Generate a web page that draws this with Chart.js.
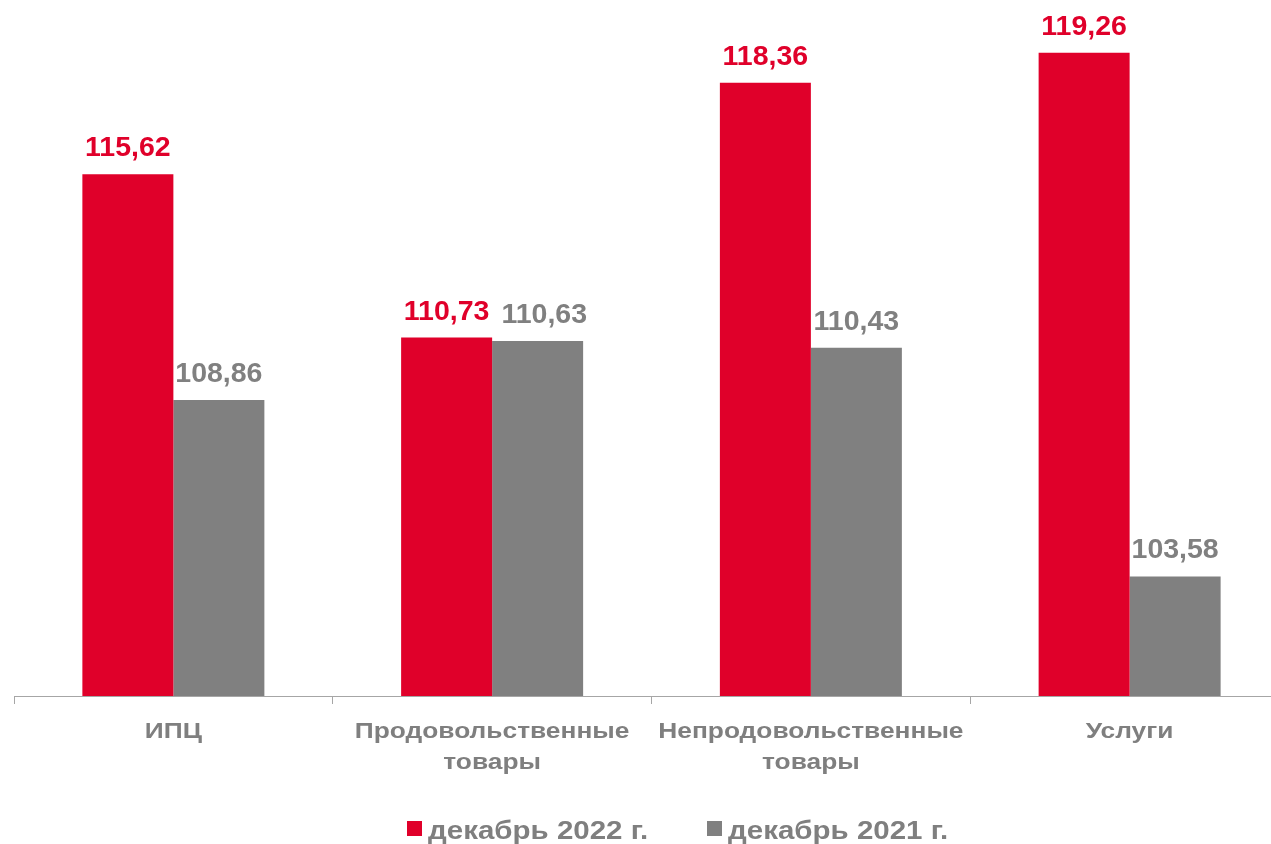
<!DOCTYPE html>
<html>
<head>
<meta charset="utf-8">
<script src="https://cdn.jsdelivr.net/npm/chart.js@4/dist/chart.umd.min.js"></script>
<style>
  html, body { margin: 0; padding: 0; background: #fff; overflow: hidden; }
  #wrap { position: relative; width: 1310px; height: 844px; }
  .item { position: absolute; top: 816px; height: 25px; line-height: 25px; font: bold 25px "Liberation Sans", Arial, sans-serif; color: #7F7F7F; white-space: nowrap; }
  .item .box { position: absolute; left: 0; top: 5px; width: 15px; height: 15px; }
  .item .txt { position: absolute; left: 21px; top: 0; transform: scaleX(1.18); transform-origin: 0 0; }
</style>
</head>
<body>
<div id="wrap">
  <canvas id="cpiChart" width="1310" height="844"></canvas>
</div>
<script>
  // data
  const categories = ["ИПЦ", ["Продовольственные", "товары"], ["Непродовольственные", "товары"], "Услуги"];
  const seriesNames = ["декабрь 2022 г.", "декабрь 2021 г."];
  const dec2022 = [115.62, 110.73, 118.36, 119.26];
  const dec2021 = [108.86, 110.63, 110.43, 103.58];
  const colors = ["#E0002A", "#808080"];

  const fontFamily = '"Liberation Sans", Arial, sans-serif';

  // reference text is a bit wider than Arial, stretch it horizontally
  const textStretch = {
    id: "textStretch",
    beforeDraw(chart) {
      const ctx = chart.ctx;
      if (!ctx._origFill) {
        ctx._origFill = ctx.fillText;
        ctx.fillText = function (t, x, y, mw) {
          const sx = ctx._stretch || 1;
          ctx.save();
          ctx.translate(x, y);
          ctx.scale(sx, 1);
          if (mw === undefined) ctx._origFill(t, 0, 0);
          else ctx._origFill(t, 0, 0, mw);
          ctx.restore();
        };
      }
      ctx._stretch = 1.17;
    }
  };

  // value labels above bars (pushed right when they would collide)
  const valueLabels = {
    id: "valueLabels",
    afterDatasetsDraw(chart) {
      const ctx = chart.ctx;
      const old = ctx._stretch;
      ctx._stretch = 1;
      ctx.save();
      ctx.font = "bold 28.5px " + fontFamily;
      ctx.textAlign = "center";
      ctx.textBaseline = "alphabetic";
      const prevRight = [];
      chart.data.datasets.forEach(function (ds, i) {
        const meta = chart.getDatasetMeta(i);
        ctx.fillStyle = ds.backgroundColor;
        meta.data.forEach(function (bar, j) {
          const txt = ds.data[j].toFixed(2).replace(".", ",");
          const w = ctx.measureText(txt).width;
          let x = bar.x;
          if (i > 0 && Math.abs(chart.getDatasetMeta(i - 1).data[j].y - bar.y) < 30) {
            x = Math.max(x, prevRight[j] + 12 + w / 2);
          }
          ctx.fillText(txt, x, bar.y - 18);
          prevRight[j] = x + w / 2;
        });
      });
      ctx.restore();
      ctx._stretch = old;
    }
  };

  const ctx = document.getElementById("cpiChart").getContext("2d");
  const chart = new Chart(ctx, {
    type: "bar",
    data: {
      labels: categories,
      datasets: [
        { label: seriesNames[0], data: dec2022, backgroundColor: colors[0] },
        { label: seriesNames[1], data: dec2021, backgroundColor: colors[1] }
      ]
    },
    options: {
      responsive: false,
      animation: false,
      layout: { padding: { left: 14, right: 21, top: 28, bottom: 0 } },
      datasets: { bar: { categoryPercentage: 0.571, barPercentage: 1.0 } },
      plugins: { legend: { display: false }, tooltip: { enabled: false } },
      scales: {
        y: { display: false, min: 100, max: 120 },
        x: {
          afterFit: function (scale) { scale.height = 148; },
          grid: { offset: true, drawOnChartArea: false, tickLength: 8, color: "#A6A6A6" },
          border: { color: "#A6A6A6", width: 1 },
          ticks: {
            color: "#7F7F7F",
            padding: 12,
            maxRotation: 0,
            autoSkip: false,
            font: { family: fontFamily, size: 22.5, weight: "bold", lineHeight: 1.38 }
          }
        }
      }
    },
    plugins: [textStretch, valueLabels]
  });

  // legend
  const legendLeft = [407, 707];
  const wrap = document.getElementById("wrap");
  seriesNames.forEach(function (name, i) {
    const item = document.createElement("div");
    item.className = "item";
    item.style.left = legendLeft[i] + "px";
    item.innerHTML = '<span class="box" style="background:' + colors[i] + '"></span><span class="txt">' + name + '</span>';
    wrap.appendChild(item);
  });
</script>
</body>
</html>
